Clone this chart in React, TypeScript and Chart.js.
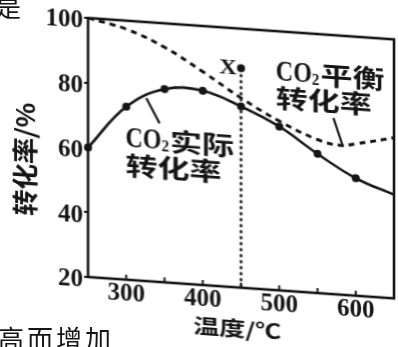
import React, { useEffect, useRef } from 'react';
import { Chart, registerables } from 'chart.js';

Chart.register(...registerables);

// ---- data ----
const TEMPS = [250, 300, 350, 400, 450, 500, 550, 600, 650];
const ACTUAL = [60, 73.4, 79.7, 80.0, 76.0, 70.6, 63.0, 56.3, 52.0];
const ACTUAL_MARKED = [true, true, true, true, true, true, true, true, false];
const EQ_TEMPS = [250, 300, 350, 400, 450, 500, 550, 580, 600, 650];
const EQUILIBRIUM = [100, 97.4, 92.6, 85.9, 78.6, 72.3, 67.4, 66.1, 66.9, 69.6];
const POINT_X_TEMP = [450];
const POINT_X_VALUE = [87.8];
const X_TICKS = [300, 350, 400, 450, 500, 550, 600];
const X_LABELED = [300, 400, 500, 600];
const Y_TICKS = [20, 40, 60, 80, 100];

// annotation anchors in data units [temperature, %]
const ACTUAL_LABEL_AT = [299, 63.8, 55.3];
const EQ_LABEL_AT = [495.5, 87.6, 79.6];
const ACTUAL_LEADER = [[326.2, 76.5], [343.5, 69.0]];
const EQ_LEADER = [[570.8, 74.4], [582.5, 66.3]];
const X_LABEL_AT = [433, 87.5];

const INK = '#151515';
const SERIF = '"Liberation Serif", "DejaVu Serif", serif';
const CJK = '"Noto Sans CJK SC", sans-serif';

function drawScaled(ctx: CanvasRenderingContext2D, text: string, x: number, y: number, font: string, sx: number, align: 'left' | 'center' = 'left') {
  ctx.save();
  ctx.font = font;
  const w = ctx.measureText(text).width * sx;
  const x0 = align === 'center' ? x - w / 2 : x;
  ctx.translate(x0, y);
  ctx.scale(sx, 1);
  ctx.textAlign = 'left';
  ctx.fillText(text, 0, 0);
  ctx.restore();
  return w;
}

function drawCO2Label(ctx: CanvasRenderingContext2D, x: number, y: number, cjk: string) {
  let cx = x;
  cx += drawScaled(ctx, 'CO', cx, y + 1, `bold 30px ${SERIF}`, 0.8);
  cx += drawScaled(ctx, '2', cx, y + 7, `bold 16px ${SERIF}`, 0.95);
  cx += 1;
  drawScaled(ctx, cjk, cx, y, `bold 25px ${CJK}`, 1.28);
}

const decor = {
  id: 'decor',
  afterDraw(chart: any) {
    const { ctx, chartArea: ca, scales } = chart;
    const xs = scales.x;
    const ys = scales.y;
    ctx.save();
    ctx.strokeStyle = INK;
    ctx.fillStyle = INK;
    // frame
    ctx.lineWidth = 2.6;
    ctx.strokeRect(ca.left, ca.top, ca.right - ca.left, ca.bottom - ca.top);
    // inward x ticks
    ctx.lineWidth = 2;
    X_TICKS.forEach((t) => {
      const px = xs.getPixelForValue(t);
      ctx.beginPath();
      ctx.moveTo(px, ca.bottom);
      ctx.lineTo(px, ca.bottom - 5);
      ctx.stroke();
    });
    ctx.textBaseline = 'middle';
    // curve labels
    drawCO2Label(ctx, xs.getPixelForValue(ACTUAL_LABEL_AT[0]), ys.getPixelForValue(ACTUAL_LABEL_AT[1]), '实际');
    drawScaled(ctx, '转化率', xs.getPixelForValue(ACTUAL_LABEL_AT[0]), ys.getPixelForValue(ACTUAL_LABEL_AT[2]), `bold 25px ${CJK}`, 1.28);
    drawCO2Label(ctx, xs.getPixelForValue(EQ_LABEL_AT[0]), ys.getPixelForValue(EQ_LABEL_AT[1]), '平衡');
    drawScaled(ctx, '转化率', xs.getPixelForValue(EQ_LABEL_AT[0]), ys.getPixelForValue(EQ_LABEL_AT[2]), `bold 25px ${CJK}`, 1.28);
    // point label X
    drawScaled(ctx, 'X', xs.getPixelForValue(X_LABEL_AT[0]), ys.getPixelForValue(X_LABEL_AT[1]), `bold 21px ${SERIF}`, 1.15, 'center');
    // axis titles
    drawScaled(ctx, '温度/℃', xs.getPixelForValue(445), ca.bottom + 41.5, `bold 20px ${CJK}`, 1.3, 'center');
    ctx.save();
    ctx.translate(ca.left - 63, (ca.top + ca.bottom) / 2 + 16);
    ctx.rotate(-Math.PI / 2);
    ctx.font = `bold 26px ${CJK}`;
    ctx.textAlign = 'center';
    ctx.fillText('转化率/%', 0, 0);
    ctx.restore();
    ctx.restore();
  },
};

export default function App() {
  const ref = useRef<HTMLCanvasElement | null>(null);
  useEffect(() => {
    const canvas = ref.current;
    if (!canvas) return;
    const chart = new Chart(canvas, {
      type: 'line',
      data: {
        datasets: [
          {
            label: 'CO2实际转化率',
            data: TEMPS.map((t, i) => ({ x: t, y: ACTUAL[i] })),
            borderColor: INK,
            borderWidth: 2.6,
            tension: 0.4,
            pointRadius: ACTUAL_MARKED.map((m) => (m ? 4 : 0)),
            pointBackgroundColor: INK,
            pointBorderColor: INK,
            pointBorderWidth: 0,
            clip: false,
          },
          {
            label: 'CO2平衡转化率',
            data: EQ_TEMPS.map((t, i) => ({ x: t, y: EQUILIBRIUM[i] })),
            borderColor: INK,
            borderWidth: 3,
            borderDash: [6, 5],
            tension: 0.4,
            pointRadius: 0,
          },
          {
            label: 'X drop',
            data: [{ x: POINT_X_TEMP[0], y: POINT_X_VALUE[0] }, { x: POINT_X_TEMP[0], y: Y_TICKS[0] }],
            borderColor: INK,
            borderWidth: 2.6,
            borderDash: [3, 3],
            pointRadius: 0,
            tension: 0,
          },
          {
            label: 'X',
            data: POINT_X_TEMP.map((t, i) => ({ x: t, y: POINT_X_VALUE[i] })),
            showLine: false,
            pointRadius: 4,
            pointBackgroundColor: INK,
            pointBorderColor: INK,
            pointBorderWidth: 0,
          },
          {
            label: 'leader actual',
            data: ACTUAL_LEADER.map(([x, y]) => ({ x, y })),
            borderColor: INK,
            borderWidth: 2.2,
            pointRadius: 0,
            tension: 0,
          },
          {
            label: 'leader eq',
            data: EQ_LEADER.map(([x, y]) => ({ x, y })),
            borderColor: INK,
            borderWidth: 2.2,
            pointRadius: 0,
            tension: 0,
          },
        ],
      },
      options: {
        animation: false,
        responsive: false,
        devicePixelRatio: 1,
        events: [],
        layout: { padding: { top: 18, right: 2, left: 0, bottom: 0 } },
        plugins: { legend: { display: false }, tooltip: { enabled: false }, title: { display: false } },
        scales: {
          x: {
            type: 'linear',
            min: 250,
            max: 650,
            afterBuildTicks: (s: any) => {
              s.ticks = X_TICKS.map((value) => ({ value }));
            },
            afterFit: (s: any) => {
              s.height = 70;
            },
            grid: { display: false, drawTicks: false },
            border: { display: false },
            ticks: {
              autoSkip: false,
              maxRotation: 0,
              padding: 0,
              color: INK,
              font: { family: SERIF, size: 25, weight: 'bold' },
              callback: (v: any) => (X_LABELED.includes(Number(v)) ? String(v) : ''),
            },
          },
          y: {
            type: 'linear',
            min: 20,
            max: 100,
            afterBuildTicks: (s: any) => {
              s.ticks = Y_TICKS.map((value) => ({ value }));
            },
            afterFit: (s: any) => {
              s.width = 88;
            },
            grid: { drawOnChartArea: false, drawTicks: true, tickLength: 4, color: INK, lineWidth: 2 },
            border: { display: false },
            ticks: {
              padding: 1,
              labelOffset: 4,
              color: INK,
              font: { family: SERIF, size: 25, weight: 'bold' },
              callback: (v: any) => String(v),
            },
          },
        },
      },
      plugins: [decor],
    } as any);
    return () => chart.destroy();
  }, []);

  return (
    <div style={{ position: 'absolute', left: 0, top: 0, width: 398, height: 347, overflow: 'hidden', background: '#fff' }}>
      <canvas
        ref={ref}
        width={398}
        height={347}
        style={{ display: 'block', width: 398, height: 347, transform: 'skewY(4deg)', transformOrigin: '88px 0px' }}
      />
      <div style={{ position: 'absolute', left: -5, top: -7, font: `26px ${CJK}`, lineHeight: '26px', color: INK }}>是</div>
      <div style={{ position: 'absolute', left: -2, top: 325, font: `26px ${CJK}`, lineHeight: '26px', letterSpacing: 3, color: INK, whiteSpace: 'nowrap' }}>高而增加</div>
    </div>
  );
}
